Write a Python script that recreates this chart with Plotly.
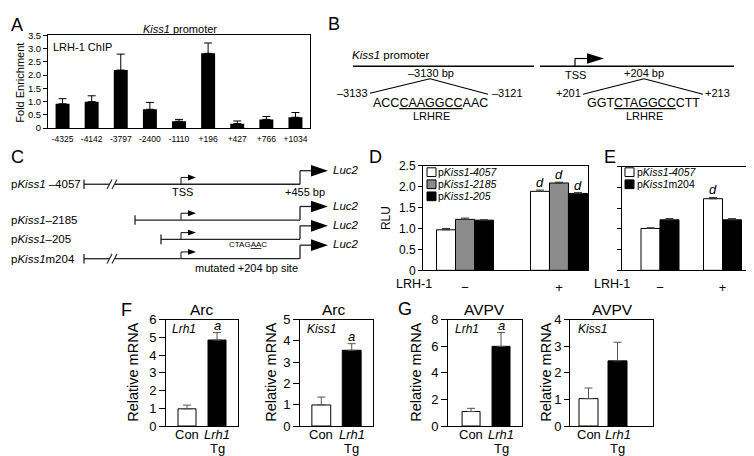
import plotly.graph_objects as go

# ---------------- data ----------------
chip_sites = ["-4325", "-4142", "-3797", "-2400", "-1110", "+196", "+427", "+766", "+1034"]
chip_fold = [0.92, 1.00, 2.19, 0.71, 0.26, 2.82, 0.17, 0.33, 0.41]
chip_sem = [0.19, 0.22, 0.60, 0.26, 0.07, 0.39, 0.10, 0.11, 0.18]
chip_ticks = [0, 0.5, 1.0, 1.5, 2.0, 2.5, 3.0, 3.5]
chip_ticktext = ["0", "0.5", "1.0", "1.5", "2.0", "2.5", "3.0", "3.5"]

lrh1_levels = ["\u2212", "+"]
rlu_ticks = [0, 0.5, 1.0, 1.5, 2.0, 2.5]
rlu_ticktext = ["0", "0.5", "1.0", "1.5", "2.0", "2.5"]

d_names = ["p<i>Kiss1-4057</i>", "p<i>Kiss1-2185</i>", "p<i>Kiss1-205</i>"]
d_4057 = [0.97, 1.89]
d_4057_sem = [0.03, 0.03]
d_2185 = [1.22, 2.09]
d_2185_sem = [0.03, 0.02]
d_205 = [1.20, 1.84]
d_205_sem = [0.01, 0.02]
d_marks = ["", "d"]

e_names = ["p<i>Kiss1-4057</i>", "p<i>Kiss1</i>m204"]
e_4057 = [1.01, 1.73]
e_4057_sem = [0.02, 0.03]
e_m204 = [1.22, 1.22]
e_m204_sem = [0.03, 0.03]
e_4057_marks = ["", "d"]

mouse_groups_line1 = ["Con", "<i>Lrh1</i>"]
mouse_groups_line2 = ["", "Tg"]
arc_lrh1 = [0.97, 4.85]
arc_lrh1_sem = [0.21, 0.42]
arc_kiss1 = [0.99, 3.56]
arc_kiss1_sem = [0.37, 0.31]
avpv_lrh1 = [1.09, 5.99]
avpv_lrh1_sem = [0.24, 1.04]
avpv_kiss1 = [1.03, 2.45]
avpv_kiss1_sem = [0.40, 0.70]
mouse_marks_lrh1_arc = ["", "a"]
mouse_marks_kiss1_arc = ["", "a"]
mouse_marks_lrh1_avpv = ["", "a"]
mouse_marks_kiss1_avpv = ["", ""]

# ---------------- helpers ----------------
W, H = 754, 456
FONT = "Liberation Sans, Arial, Helvetica, sans-serif"


def X(px):
    return px / W


def Y(py):
    return 1 - py / H


shapes = []
annotations = []


def seg(x0, y0, x1, y1, w=1.2, c="black"):
    shapes.append(dict(type="line", xref="paper", yref="paper",
                       x0=X(x0), y0=Y(y0), x1=X(x1), y1=Y(y1),
                       line=dict(color=c, width=w)))


def poly(pts, fill="black"):
    p = "M " + " L ".join(f"{X(a):.5f},{Y(b):.5f}" for a, b in pts) + " Z"
    shapes.append(dict(type="path", xref="paper", yref="paper", path=p,
                       fillcolor=fill, line=dict(width=0)))


def rect(x0, y0, x1, y1, fill):
    shapes.append(dict(type="rect", xref="paper", yref="paper",
                       x0=X(x0), y0=Y(y0), x1=X(x1), y1=Y(y1),
                       fillcolor=fill, line=dict(color="black", width=1)))


def txt(x, y, s, size=11, xa="center", ya="middle", angle=0):
    annotations.append(dict(xref="paper", yref="paper", x=X(x), y=Y(y), text=s,
                            showarrow=False, xanchor=xa, yanchor=ya,
                            textangle=angle, borderpad=0,
                            font=dict(size=size, family=FONT, color="black")))


def mark(xref, yref, x, y, s, size=13):
    if not s:
        return
    annotations.append(dict(xref=xref, yref=yref, x=x, y=y, text=f"<i>{s}</i>",
                            showarrow=False, xanchor="center", yanchor="bottom",
                            borderpad=0, yshift=-1,
                            font=dict(size=size, family=FONT, color="black")))


def catlabel(xref, x, py, s, size=13):
    if not s:
        return
    annotations.append(dict(xref=xref, yref="paper", x=x, y=Y(py), text=s,
                            showarrow=False, xanchor="center", yanchor="middle",
                            borderpad=0,
                            font=dict(size=size, family=FONT, color="black")))


def xaxis(x0, x1, rng, anchor, tickvals=None, ticktext=None, size=13, standoff=2,
          cat=False, labels=True):
    d = dict(domain=[X(x0), X(x1)], range=rng, anchor=anchor,
             showline=True, mirror=True, linecolor="black", linewidth=1,
             ticks="", showgrid=False, zeroline=False, fixedrange=True,
             showticklabels=labels,
             tickfont=dict(size=size, family=FONT, color="black"),
             ticklabelstandoff=standoff)
    if cat:
        d["type"] = "category"
    if tickvals is not None:
        d["tickvals"] = tickvals
        d["ticktext"] = ticktext
    return d


def yaxis(top, bottom, rng, anchor, tickvals=None, ticktext=None, dtick=None,
          size=13, labels=True, ticklen=4):
    d = dict(domain=[Y(bottom), Y(top)], range=rng, anchor=anchor,
             showline=True, mirror=True, linecolor="black", linewidth=1,
             ticks="outside", ticklen=ticklen, tickwidth=1, tickcolor="black",
             showgrid=False, zeroline=False, fixedrange=True,
             showticklabels=labels,
             tickfont=dict(size=size, family=FONT, color="black"))
    if tickvals is not None:
        d["tickvals"] = tickvals
        d["ticktext"] = ticktext
    if dtick is not None:
        d["tick0"] = 0
        d["dtick"] = dtick
    return d


def err(vals, color="black"):
    return dict(type="data", array=vals, arrayminus=[0] * len(vals), symmetric=False,
                color=color, thickness=1, width=4)


fig = go.Figure()

# ---------------- Panel A ----------------
fig.add_trace(go.Bar(x=chip_sites, y=chip_fold, error_y=err(chip_sem),
                     marker=dict(color="black", line=dict(width=0)), width=0.48,
                     xaxis="x", yaxis="y", showlegend=False))

# ---------------- Panel D ----------------
d_vals = [d_4057, d_2185, d_205]
d_sems = [d_4057_sem, d_2185_sem, d_205_sem]
d_cols = ["white", "#8c8c8c", "black"]
bw = 0.202
for i in range(3):
    off = -0.303 + i * bw
    fig.add_trace(go.Bar(x=[0, 1], y=d_vals[i], error_y=err(d_sems[i], "#333"),
                         marker=dict(color=d_cols[i], line=dict(color="black", width=1)),
                         width=bw, offset=off, xaxis="x2", yaxis="y2",
                         name=d_names[i], showlegend=False))
    for j in range(2):
        mark("x2", "y2", j + off + bw / 2, d_vals[i][j] + d_sems[i][j], d_marks[j], 13)

# ---------------- Panel E ----------------
e_vals = [e_4057, e_m204]
e_sems = [e_4057_sem, e_m204_sem]
e_cols = ["white", "black"]
bwe = 0.304
for i in range(2):
    off = -0.304 + i * bwe
    fig.add_trace(go.Bar(x=[0, 1], y=e_vals[i], error_y=err(e_sems[i], "#333"),
                         marker=dict(color=e_cols[i], line=dict(color="black", width=1)),
                         width=bwe, offset=off, xaxis="x3", yaxis="y3",
                         name=e_names[i], showlegend=False))
for j in range(2):
    mark("x3", "y3", j - 0.152, e_4057[j] + e_4057_sem[j], e_4057_marks[j], 13)

# ---------------- Panels F, G ----------------
mouse_panels = [
    (arc_lrh1, arc_lrh1_sem, mouse_marks_lrh1_arc, "4", 0.6),
    (arc_kiss1, arc_kiss1_sem, mouse_marks_kiss1_arc, "5", 0.62),
    (avpv_lrh1, avpv_lrh1_sem, mouse_marks_lrh1_avpv, "6", 0.60),
    (avpv_kiss1, avpv_kiss1_sem, mouse_marks_kiss1_avpv, "7", 0.655),
]
for vals, sems, marks, k, w in mouse_panels:
    fig.add_trace(go.Bar(x=[0, 1], y=vals, error_y=err(sems, "#555"),
                         marker=dict(color=["white", "black"], line=dict(color="black", width=1)),
                         width=w, xaxis="x" + k, yaxis="y" + k, showlegend=False))
    for j in range(2):
        mark("x" + k, "y" + k, j, vals[j] + sems[j], marks[j], 13)
        catlabel("x" + k, j, 434, mouse_groups_line1[j], 13)
        catlabel("x" + k, j, 448, mouse_groups_line2[j], 13)

# ---------------- axes ----------------
layout_axes = dict(
    xaxis=xaxis(40, 302, [-0.5, 8.5], "y", size=8.5, standoff=3, cat=True),
    yaxis=yaxis(21, 117, [0, 3.5], "x", chip_ticks, chip_ticktext, size=9.5, ticklen=4),
    xaxis2=xaxis(415, 580, [-0.447, 1.309], "y2", [0, 1], lrh1_levels, size=13, standoff=5),
    yaxis2=yaxis(156, 264, [0, 2.5], "x2", rlu_ticks, rlu_ticktext, size=12),
    xaxis3=xaxis(614, 751, [-0.608, 1.584], "y3", [0, 1], lrh1_levels, size=13, standoff=5),
    yaxis3=yaxis(157, 264, [0, 2.5], "x3", rlu_ticks, rlu_ticktext, size=12, labels=False),
    xaxis4=xaxis(158, 230, [-0.7, 1.7], "y4", labels=False),
    yaxis4=yaxis(315, 425, [0, 6], "x4", dtick=1, size=13, ticklen=6),
    xaxis5=xaxis(292, 365, [-0.7, 1.7], "y5", labels=False),
    yaxis5=yaxis(315, 425, [0, 5], "x5", dtick=1, size=13, ticklen=6),
    xaxis6=xaxis(440, 514, [-0.77, 1.7], "y6", labels=False),
    yaxis6=yaxis(315, 425, [0, 8], "x6", dtick=2, size=13, ticklen=6),
    xaxis7=xaxis(562, 645, [-0.638, 2.224], "y7", labels=False),
    yaxis7=yaxis(315, 425, [0, 4], "x7", dtick=1, size=13, ticklen=5),
)

# ---------------- texts: panel A ----------------
txt(2, 10, "A", 18, xa="left")
txt(172, 14, "<i>Kiss1</i> promoter", 11)
txt(44, 33, "LRH-1 ChIP", 11, xa="left")
txt(12, 70, "Fold Enrichment", 11, angle=-90)

# ---------------- panel B (diagram) ----------------
txt(319, 9, "B", 18, xa="left")
txt(343, 41, "<i>Kiss1</i> promoter", 11.5, xa="left")
seg(345, 53, 526, 53, 1.3)
seg(532, 53, 726, 53, 1.3)
txt(423, 60, "\u20133130 bp", 11)
seg(362, 81, 422, 66, 1.1)
seg(422, 66, 480, 82, 1.1)
txt(361, 81, "\u20133133", 11, xa="right")
txt(483, 81, "\u20133121", 11, xa="left")
txt(422, 91, "ACC<u>CAAGGCC</u>AAC", 12.5)
txt(423, 104, "LRHRE", 11)
# TSS arrow
seg(567, 53, 567, 45, 1.2)
seg(567, 45, 580, 45, 1.2)
poly([(579, 39.5), (596, 45), (579, 50.5)])
txt(567, 62, "TSS", 11)
txt(636, 60, "+204 bp", 11)
seg(575, 82, 636, 66, 1.1)
seg(636, 66, 695, 82, 1.1)
txt(574, 81, "+201", 11, xa="right")
txt(696, 81, "+213", 11, xa="left")
txt(635, 91, "GGT<u>CTAGGCC</u>CTT", 12.5)
txt(636, 104, "LRHRE", 11)

# ---------------- panel C (constructs) ----------------
txt(2, 147, "C", 18, xa="left")
rows = [
    ("p<i>Kiss1</i> \u20134057", 175, 76, True),
    ("p<i>Kiss1</i>\u20132185", 212, 127, False),
    ("p<i>Kiss1</i>\u2013205", 232, 153, False),
    ("p<i>Kiss1</i>m204", 252, 76, True),
]
for label, yy, x0, brk in rows:
    txt(2, yy, label, 11.5, xa="left")
    seg(x0, yy - 5, x0, yy + 5, 1.3, "#222")
    if brk:
        seg(x0, yy, 102, yy, 1.3, "#222")
        seg(107, yy, 292, yy, 1.3, "#222")
        seg(99, yy + 5, 104, yy - 5, 1.1, "#222")
        seg(104, yy + 5, 109, yy - 5, 1.1, "#222")
    else:
        seg(x0, yy, 292, yy, 1.3, "#222")
    # TSS small bent arrow
    seg(173, yy, 173, yy - 7, 1.1, "#222")
    seg(173, yy - 7, 181, yy - 7, 1.1, "#222")
    poly([(180, yy - 10), (188, yy - 7), (180, yy - 4)])
    # Luc2 bent arrow
    seg(292, yy, 292, yy - 14, 1.3, "#222")
    seg(292, yy - 14, 304, yy - 14, 1.3, "#222")
    poly([(303, yy - 20), (320, yy - 14), (303, yy - 8)])
    txt(324, yy - 15, "<i>Luc2</i>", 11.5, xa="left")
txt(174, 183, "TSS", 11)
txt(297, 183, "+455 bp", 11)
txt(240, 237, "CTAG<u>AA</u>C", 8)
txt(238, 262, "mutated +204 bp site", 11)

# ---------------- panel D / E texts ----------------
txt(360, 147, "D", 18, xa="left")
txt(378, 210, "RLU", 12, angle=-90)
txt(406, 278, "LRH-1", 12.5)
for i, (nm, yy) in enumerate(zip(d_names, [162.5, 175, 187.5])):
    rect(419, yy - 4.5, 428, yy + 4.5, d_cols[i])
    txt(429.5, yy, nm, 10.5, xa="left")

txt(595, 147, "E", 18, xa="left")
txt(604, 278, "LRH-1", 12.5)
for i, (nm, yy) in enumerate(zip(e_names, [162.5, 175])):
    rect(617, yy - 4.5, 626, yy + 4.5, e_cols[i])
    txt(627.5, yy, nm, 10.5, xa="left")

# ---------------- panel F / G texts ----------------
txt(112, 305, "F", 18, xa="left")
txt(389, 304, "G", 18, xa="left")
titles = [(194, "Arc"), (326, "Arc"), (476, "AVPV"), (604, "AVPV")]
for xc, t in titles:
    txt(xc, 305, t, 15.5)
for xc in [125, 263, 408, 538]:
    txt(xc, 370, "Relative mRNA", 14.5, angle=-90)
txt(163, 325, "<i>Lrh1</i>", 12, xa="left")
txt(298, 325, "<i>Kiss1</i>", 12, xa="left")
txt(446, 325, "<i>Lrh1</i>", 12, xa="left")
txt(569, 325, "<i>Kiss1</i>", 12, xa="left")

fig.update_layout(
    width=W, height=H, margin=dict(l=0, r=0, t=0, b=0),
    paper_bgcolor="white", plot_bgcolor="white",
    barmode="overlay", showlegend=False,
    font=dict(family=FONT, color="black"),
    shapes=shapes, annotations=annotations,
    **layout_axes,
)

fig.write_html("out.html")
